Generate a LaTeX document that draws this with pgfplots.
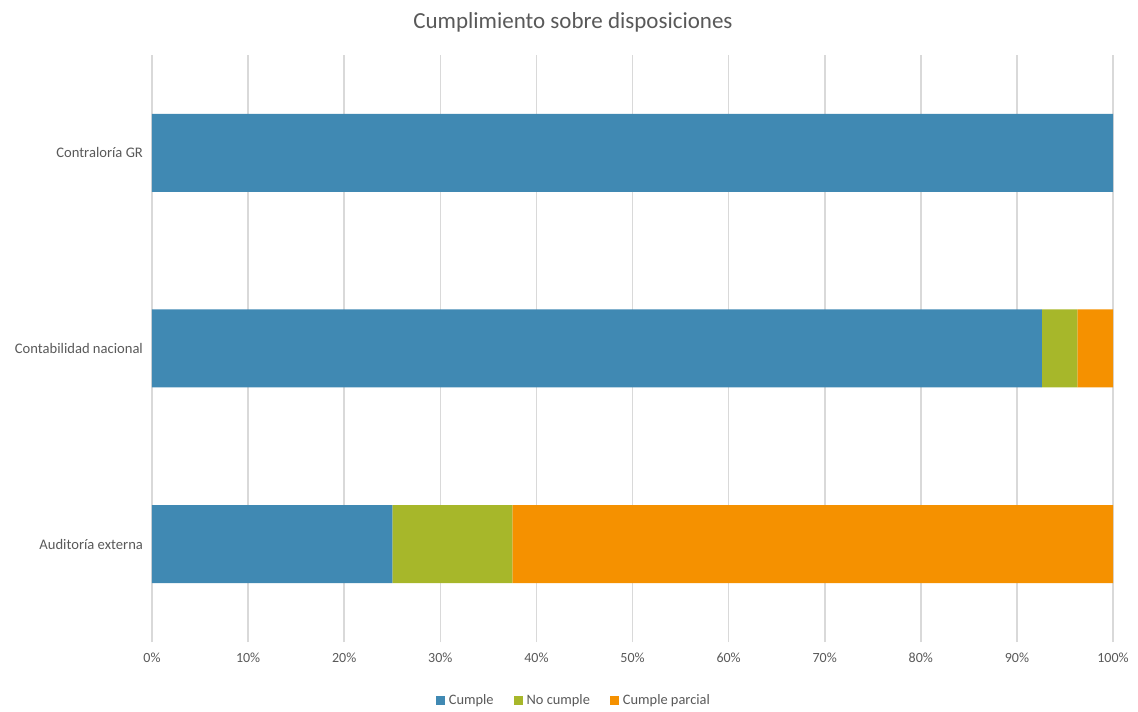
\documentclass[border=0pt]{standalone}
\usepackage{pgfplots}
\pgfplotsset{compat=1.18}
\usepackage{fontspec}
\setmainfont{Carlito}
\definecolor{cblue}{HTML}{4089B3}
\definecolor{cgreen}{HTML}{A7B72A}
\definecolor{corange}{HTML}{F59100}
\definecolor{cgrid}{HTML}{D9D9D9}
\definecolor{ctext}{HTML}{595959}
\begin{document}
\begin{tikzpicture}
\path[use as bounding box] (-76pt,-34.5pt) rectangle (493pt,321pt);
\begin{axis}[
  at={(0,0)}, anchor=south west,
  scale only axis, width=480.5pt, height=293.5pt,
  xbar stacked, bar width=39pt,
  xmin=0, xmax=100, ymin=-0.5, ymax=2.5,
  xtick={0,10,...,100},
  xticklabels={0\%,10\%,20\%,30\%,40\%,50\%,60\%,70\%,80\%,90\%,100\%},
  ytick={0,1,2},
  yticklabels={Auditoría externa,Contabilidad nacional,Contraloría GR},
  xmajorgrids, grid style={cgrid, line width=0.8pt},
  axis line style={draw=none},
  x tick style={cgrid, line width=0.8pt},
  xtick pos=bottom, major tick length=2.5pt,
  y tick style={draw=none},
  tick label style={font=\fontsize{7}{8}\selectfont, text=ctext},
  yticklabel style={font=\fontsize{7.3}{8}\selectfont, xshift=-1pt},
  xticklabel style={yshift=-2pt},
  /pgf/number format/assume math mode=true,
  legend style={at={(0.44,-0.1)}, anchor=center, draw=none, legend columns=3,
    font=\fontsize{7.2}{8}\selectfont, text=ctext,
    /tikz/every even column/.append style={column sep=8pt}},
  legend image code/.code={\fill[#1] (0pt,-2pt) rectangle (4.5pt,2.5pt);},
  every axis plot/.append style={draw=none},
]
\addplot[fill=cblue] coordinates {(25,0) (92.59,1) (100,2)};
\addplot[fill=cgreen] coordinates {(12.5,0) (3.71,1) (0,2)};
\addplot[fill=corange] coordinates {(62.5,0) (3.70,1) (0,2)};
\legend{Cumple,No cumple,Cumple parcial}
\end{axis}
\node[text=ctext, font=\fontsize{11.5}{13}\selectfont] at (210.5pt,310pt) {Cumplimiento sobre disposiciones};
\end{tikzpicture}
\end{document}
